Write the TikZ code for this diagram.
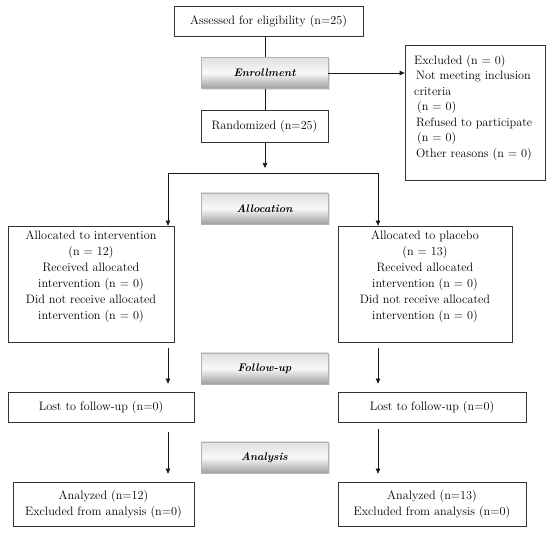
\documentclass[tikz,border=0pt]{standalone}
\usetikzlibrary{arrows.meta,shadows}
\begin{document}
\begin{tikzpicture}[x=1pt,y=-1pt,
  every node/.style={font=\fontsize{12.2}{16}\selectfont},
  box/.style={draw=black!80, line width=0.7pt, fill=white, align=center, inner sep=0pt},
  phase/.style={draw=gray!60, line width=0.5pt, top color=gray!25, bottom color=gray!75, middle color=gray!5,
    minimum width=127pt, minimum height=31pt, inner sep=0pt,
    font=\fontsize{11}{13}\selectfont\bfseries\itshape,
    drop shadow={shadow xshift=1.5pt, shadow yshift=-1.5pt, fill=gray!40, opacity=0.6}},
  link/.style={line width=0.7pt, black!90},
  arr/.style={link, -{Triangle[length=5pt,width=4.5pt]}}]
\useasboundingbox (0,0) rectangle (550,534);

\node[box, minimum width=189pt, minimum height=30pt] (assess) at (268.5,21) {Assessed for eligibility (n=25)};
\node[phase] (enroll) at (264.5,73) {Enrollment};
\node[box, minimum width=127pt, minimum height=32pt] (rand) at (264.5,126) {Randomized (n=25)};
\node[box, minimum width=140pt, minimum height=135pt] (excl) at (475,112.5) {};
\node[anchor=north west, align=left, inner sep=0pt, font=\fontsize{12.2}{15.5}\selectfont] (excltxt) at (414,55)
  {Excluded (n = 0)\\
   \hspace*{2pt}Not meeting inclusion\\
   criteria\\
   \hspace*{3pt}(n = 0)\\
   \hspace*{2pt}Refused to participate\\
   \hspace*{3pt}(n = 0)\\
   \hspace*{2pt}Other reasons (n = 0)};
\node[phase] (alloc) at (264.5,208.5) {Allocation};
\node[box, minimum width=166pt, minimum height=116pt] (L1) at (91,284)
  {Allocated to intervention\\(n = 12)\\Received allocated\\intervention (n = 0)\\Did not receive allocated\\intervention (n = 0)\\[2pt]};
\node[box, minimum width=174pt, minimum height=116pt] (R1) at (425,284)
  {Allocated to placebo\\(n = 13)\\Received allocated\\intervention (n = 0)\\Did not receive allocated\\intervention (n = 0)\\[2pt]};
\node[phase] (follow) at (264.5,368.5) {Follow-up};
\node[box, minimum width=186pt, minimum height=30pt] (L2) at (101,407) {Lost to follow-up (n=0)};
\node[box, minimum width=188pt, minimum height=30pt] (R2) at (432,407) {Lost to follow-up (n=0)};
\node[phase] (analysis) at (264.5,457.5) {Analysis};
\node[box, minimum width=181pt, minimum height=44pt] (L3) at (103.5,504) {Analyzed (n=12)\\Excluded from analysis (n=0)};
\node[box, minimum width=188pt, minimum height=44pt] (R3) at (432,504) {Analyzed (n=13)\\Excluded from analysis (n=0)};

\coordinate (mx) at (265,0);
\coordinate (tip) at (265,168);
\coordinate (hl) at (168,173);
\coordinate (hr) at (378,173);

\draw[link] (assess.south -| mx) -- (enroll.north -| mx);
\draw[link] (enroll.south -| mx) -- (rand.north -| mx);
\draw[arr] (rand.south -| mx) -- (tip);
\draw[arr] (enroll.east) -- (excl.west |- enroll.east);
\draw[link] (hl) -- (hr);
\draw[arr] (hl) -- (L1.north -| hl);
\draw[arr] (hr) -- (R1.north -| hr);
\draw[arr, shorten <=6pt, shorten >=8pt] (L1.south -| hl) -- (L2.north -| hl);
\draw[arr, shorten <=6pt, shorten >=8pt] (R1.south -| hr) -- (R2.north -| hr);
\draw[arr, shorten <=10pt, shorten >=8pt] (L2.south -| hl) -- (L3.north -| hl);
\draw[arr, shorten <=7pt, shorten >=8pt] (R2.south -| hr) -- (R3.north -| hr);
\end{tikzpicture}
\end{document}
